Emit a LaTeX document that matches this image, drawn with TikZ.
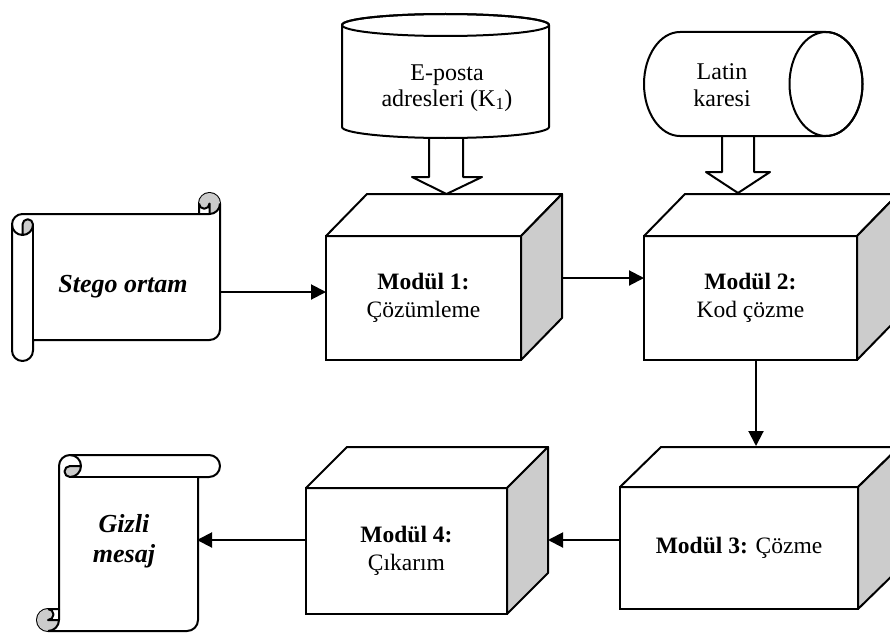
\documentclass[tikz,border=0pt]{standalone}
\usepackage{fontspec}
\setmainfont{Liberation Serif}
\usetikzlibrary{arrows.meta}
\definecolor{shade}{HTML}{CCCCCC}

% Scroll outline in local (u,v) coordinates: #1 = length along u,
% #2 = length along v, #3 = roll diameter.
\newcommand\drawscroll[3]{%
  \pgfmathsetmacro\sW{#1}\pgfmathsetmacro\sH{#2}\pgfmathsetmacro\sc{#3}%
  \pgfmathsetmacro\sch{\sc/2}\pgfmathsetmacro\scq{\sc/4}%
  \pgfmathsetmacro\sxa{\sW-\sc}\pgfmathsetmacro\sxb{\sW-\sch}%
  \pgfmathsetmacro\sya{\sc+\sch}\pgfmathsetmacro\syb{2*\sc}%
  \pgfmathsetmacro\syc{\sH-\sc}\pgfmathsetmacro\syd{\sH-\sch}%
  \pgfmathsetmacro\sye{\syc-\sch}%
  \draw[edge, fill=white]
    (0,\sya) arc[start angle=180, delta angle=90, radius=\sch]
    -- (\sxa,\sc) -- (\sxa,\sch) arc[start angle=180, delta angle=180, radius=\sch]
    -- (\sW,\sye) arc[start angle=0, delta angle=90, radius=\sch]
    -- (\sc,\syc) -- (\sc,\syd) arc[start angle=0, delta angle=180, radius=\sch]
    -- cycle;
  \fill[curl] (\sch,\syb) arc[start angle=90, delta angle=-90, radius=\sch]
    arc[start angle=0, delta angle=-180, radius=\scq] -- cycle;
  \fill[curl] (\sxb,\sc) arc[start angle=90, delta angle=-270, radius=\sch]
    arc[start angle=180, delta angle=-180, radius=\scq] -- cycle;
  \draw[edge] (\sxa,\sc) -- (\sxb,\sc) arc[start angle=90, delta angle=-90, radius=\sch];
  \draw[edge] (\sxb,\sc) -- (\sxb,\sch) arc[start angle=0, delta angle=180, radius=\scq];
  \draw[edge] (\sch,\syb) -- (\sch,\sya) arc[start angle=180, delta angle=180, radius=\scq]
    arc[start angle=0, delta angle=180, radius=\sch];
  \draw[edge] (\sc,\sya) -- (\sc,\syc);
}

% Top and side faces of a box whose front face is node #1
\newcommand\cubefaces[3]{%
  \draw[edge, fill=white] (#1.north west) -- ++(#2,-#3)
    -- ([shift={(#2,-#3)}]#1.north east) -- (#1.north east) -- cycle;
  \draw[edge, fill=shade] (#1.north east) -- ([shift={(#2,-#3)}]#1.north east)
    -- ([shift={(#2,-#3)}]#1.south east) -- (#1.south east) -- cycle;
}

\begin{document}
\begin{tikzpicture}[x=1pt,y=-1pt,
  edge/.style={line width=2pt, line join=round},
  face/.style={draw, fill=white, line width=2pt, outer sep=0pt, inner sep=0pt,
    align=center, font=\fontsize{23.5}{28.5}\selectfont},
  conn/.style={line width=2pt, -{Triangle[length=15pt,width=15pt]}},
  store/.style={align=center, font=\fontsize{24}{25.5}\selectfont},
  scrolltext/.style={align=center, font=\fontsize{26}{30}\selectfont\bfseries\itshape},
  curl/.style={fill=shade},
  blockarrow/.style={edge, fill=white}]
\useasboundingbox (0,0) rectangle (890,634);
\clip (0,0) rectangle (890,634);

% block arrows from the stores
\draw[blockarrow] (429,120) -- (429,177) -- (412,177) -- (446.5,194) -- (482,177)
  -- (463,177) -- (463,120) -- cycle;
\draw[blockarrow] (722,120) -- (722,172) -- (706,172) -- (738,193) -- (770,172)
  -- (754,172) -- (754,120) -- cycle;

% upright store
\draw[edge, fill=white] (342,25) -- (342,127)
  arc[start angle=180, delta angle=-180, x radius=103.5, y radius=11] -- (549,25)
  arc[start angle=0, delta angle=-180, x radius=103.5, y radius=11] -- cycle;
\draw[edge] (445.5,25) ellipse[x radius=103.5, y radius=11];
\node[store] (k1) at (447,88) {E-posta\\adresleri (K\textsubscript{1})};

% lying store
\draw[edge, fill=white] (826,32) -- (680,32)
  arc[start angle=270, delta angle=-180, x radius=36, y radius=52] -- (826,136)
  arc[start angle=90, delta angle=-180, x radius=36.5, y radius=52] -- cycle;
\draw[edge] (826,84) ellipse[x radius=36.5, y radius=52];
\node[store, font=\fontsize{24}{27}\selectfont] (latin) at (722,85.5) {Latin\\karesi};

% modules
\node[face, minimum width=195pt, minimum height=124pt] (m1) at (423.5,298)
  {\textbf{Modül 1:}\\Çözümleme};
\cubefaces{m1}{41}{42}
\node[face, minimum width=213pt, minimum height=124pt] (m2) at (750.5,298)
  {\textbf{Modül 2:}\\Kod çözme};
\cubefaces{m2}{41}{42}
\node[face, minimum width=238pt, minimum height=122pt] (m3) at (739,548)
  {\textbf{Modül 3:} Çözme};
\cubefaces{m3}{41}{40}
\node[face, minimum width=201pt, minimum height=126pt] (m4) at (406.5,551)
  {\textbf{Modül 4:}\\Çıkarım};
\cubefaces{m4}{41}{41}

% scrolls
\begin{scope}[shift={(12,193)}]
  \drawscroll{208}{168}{21}
\end{scope}
\node[scrolltext] (stego) at (123,287) {Stego ortam};
\begin{scope}[shift={(37,455)}, x={(0pt,-1pt)}, y={(1pt,0pt)}]
  \drawscroll{176}{183}{22}
\end{scope}
\node[scrolltext] (gizli) at (124,541) {Gizli\\mesaj};

% connectors
\coordinate (stegoout) at (220,292);
\coordinate (m1out) at (562,278);
\coordinate (m3in) at (756,446);
\coordinate (m4in) at (548,540);
\coordinate (gizliin) at (197,540);
\draw[conn] (stegoout) -- (stegoout -| m1.west);
\draw[conn] (m1out) -- (m1out -| m2.west);
\draw[conn] (m3in |- m2.south) -- (m3in);
\draw[conn] (m4in -| m3.west) -- (m4in);
\draw[conn] (gizliin -| m4.west) -- (gizliin);
\end{tikzpicture}
\end{document}
